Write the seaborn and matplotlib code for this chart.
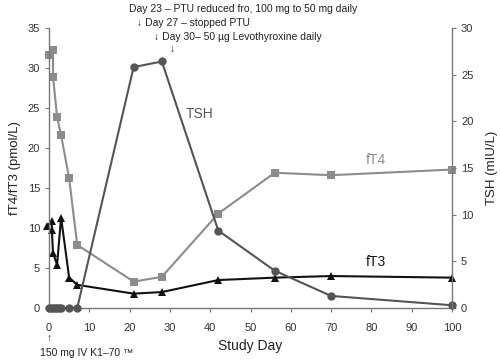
import numpy as np
import pandas as pd
import matplotlib.pyplot as plt
import seaborn as sns

sns.set_style('ticks')
plt.rcParams['font.family'] = ['Liberation Sans', 'DejaVu Sans']

# fT4 (pmol/L)
ft4_day = [0, 1, 1, 2, 3, 5, 7, 21, 28, 42, 56, 70, 100]
ft4_val = [31.6, 32.2, 28.9, 23.9, 21.6, 16.2, 7.9, 3.3, 3.9, 11.8, 16.9, 16.6, 17.3]

# fT3 (pmol/L)
ft3_day = [-0.5, 0.7, 0.7, 1, 2, 3, 5, 7, 21, 28, 42, 56, 70, 100]
ft3_val = [10.2, 10.9, 9.8, 6.9, 5.4, 11.3, 3.8, 2.9, 1.8, 2.0, 3.5, 3.8, 4.0, 3.8]

# TSH (mIU/L)
tsh_day = [0, 0.5, 1, 1.5, 2, 2.5, 3, 5, 7, 21, 28, 42, 56, 70, 100]
tsh_val = [0, 0, 0, 0, 0, 0, 0, 0, 0, 25.8, 26.4, 8.3, 4.0, 1.3, 0.3]

c_ft4 = '#8c8c8c'
c_tsh = '#555555'
c_ft3 = '#111111'
spine_c = '#777777'

fig = plt.figure(figsize=(5, 3.62), dpi=100)
ax = fig.add_axes([0.098, 0.149, 0.806, 0.774])
ax2 = ax.twinx()

sns.lineplot(x=ft4_day, y=ft4_val, ax=ax, sort=False, estimator=None, color=c_ft4,
             marker='s', markersize=6, markeredgewidth=0, linewidth=1.5, clip_on=False)
sns.lineplot(x=ft3_day, y=ft3_val, ax=ax, sort=False, estimator=None, color=c_ft3,
             marker='^', markersize=6, markeredgewidth=0, linewidth=1.5, clip_on=False)
sns.lineplot(x=tsh_day, y=tsh_val, ax=ax2, sort=False, estimator=None, color=c_tsh,
             marker='o', markersize=6, markeredgewidth=0, linewidth=1.5, clip_on=False)

ax.set_xlim(0, 100)
ax.set_ylim(0, 35)
ax2.set_ylim(0, 30)
ax.set_xticks(range(0, 101, 10))
ax.set_yticks(range(0, 36, 5))
ax2.set_yticks(range(0, 31, 5))

for a in (ax, ax2):
    a.spines['top'].set_visible(False)
    for s in a.spines.values():
        s.set_color(spine_c)
        s.set_linewidth(1.0)
    a.tick_params(colors=spine_c, labelcolor='#333333', labelsize=8, length=3, width=0.8)
ax.spines['right'].set_visible(False)
ax2.spines['left'].set_visible(False)
ax2.spines['bottom'].set_visible(False)
ax.tick_params(axis='x', pad=8)

ax.set_xlabel('Study Day', fontsize=10, color='#222222', labelpad=4)
ax.set_ylabel('fT4/fT3 (pmol/L)', fontsize=9.5, color='#222222', labelpad=5)
ax2.set_ylabel('TSH (mIU/L)', fontsize=9.5, color='#222222', labelpad=9)

# series labels
ax.text(34, 23.8, 'TSH', fontsize=10, color=c_tsh)
ax.text(78.5, 18, 'fT4', fontsize=10, color=c_ft4)
ax.text(78.5, 5.2, 'fT3', fontsize=10, color=c_ft3)

# treatment annotations
ann = dict(fontsize=7.5, color='#222222', clip_on=False, va='center')
ax.text(19.8, 37.4, 'Day 23 \u2013 PTU reduced fro, 100 mg to 50 mg daily', **ann)
ax.text(21.8, 35.65, '\u2193 Day 27 \u2013 stopped PTU', **ann)
ax.text(26.0, 33.9, '\u2193 Day 30\u2013 50 \u00b5g Levothyroxine daily', **ann)
ax.text(30.0, 32.3, '\u2193', **ann)
ax.text(0, -3.8, '\u2191', ha='center', **ann)
ax.text(-2.2, -5.6, '150 mg IV K1\u201370 \u2122', **ann)

fig.savefig('out.png', dpi=100)
